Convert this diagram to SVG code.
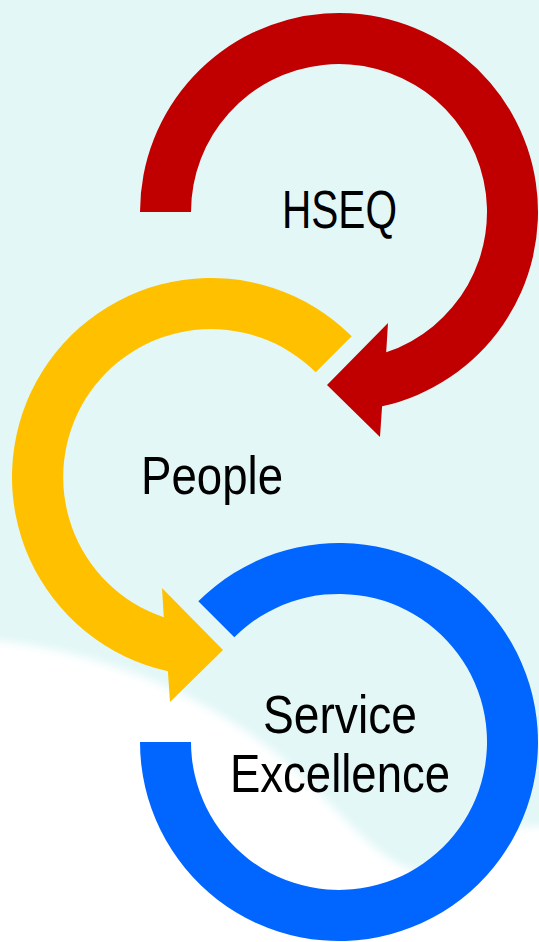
<svg xmlns="http://www.w3.org/2000/svg" width="539" height="942" viewBox="0 0 539 942">
  <style>
    .lbl { font-family: "Liberation Sans", Arial, sans-serif; font-size: 53px; fill: #000000; text-anchor: middle; }
    .red { fill: #C00000; }
    .yellow { fill: #FFC000; }
    .blue { fill: #0066FF; }
  </style>
  <defs>
    <filter id="soft" x="-5%" y="-5%" width="110%" height="110%">
      <feGaussianBlur stdDeviation="4"/>
    </filter>
  </defs>
  <g id="background">
    <rect x="0" y="0" width="539" height="942" fill="#E3F7F7"/>
    <path d="M -10 640 C 120 652 240 712 313 787 C 360 835 385 862 413 870 C 440 880 480 860 519 827 L 549 826 L 549 952 L -10 952 Z" fill="#FFFFFF" filter="url(#soft)"/>
  </g>
  <g id="node-hseq">
    <path class="red" d="M 140 212 A 199 199 0 1 1 382.1 406.3 L 380 437 L 327 385 L 388 323 L 386.2 352.3 A 148 148 0 1 0 191 212 Z"/>
    <text class="lbl" x="339.5" y="228" textLength="115" lengthAdjust="spacingAndGlyphs">HSEQ</text>
  </g>
  <g id="node-people">
    <path class="yellow" d="M 351.7 336.3 A 199 199 0 1 0 167.9 671.3 L 170 702 L 223 650 L 162 588 L 163.8 617.3 A 148 148 0 1 1 315.7 372.3 Z"/>
    <text class="lbl" x="212" y="494" textLength="142" lengthAdjust="spacingAndGlyphs">People</text>
  </g>
  <g id="node-service-excellence">
    <path class="blue" d="M 198.3 601.3 A 199 199 0 1 1 140 742 L 191 742 A 148 148 0 1 0 234.3 637.3 Z"/>
    <text class="lbl" x="340" y="733" textLength="154" lengthAdjust="spacingAndGlyphs">Service</text>
    <text class="lbl" x="340" y="792" textLength="220" lengthAdjust="spacingAndGlyphs">Excellence</text>
  </g>
  <g id="connectors"/>
</svg>
